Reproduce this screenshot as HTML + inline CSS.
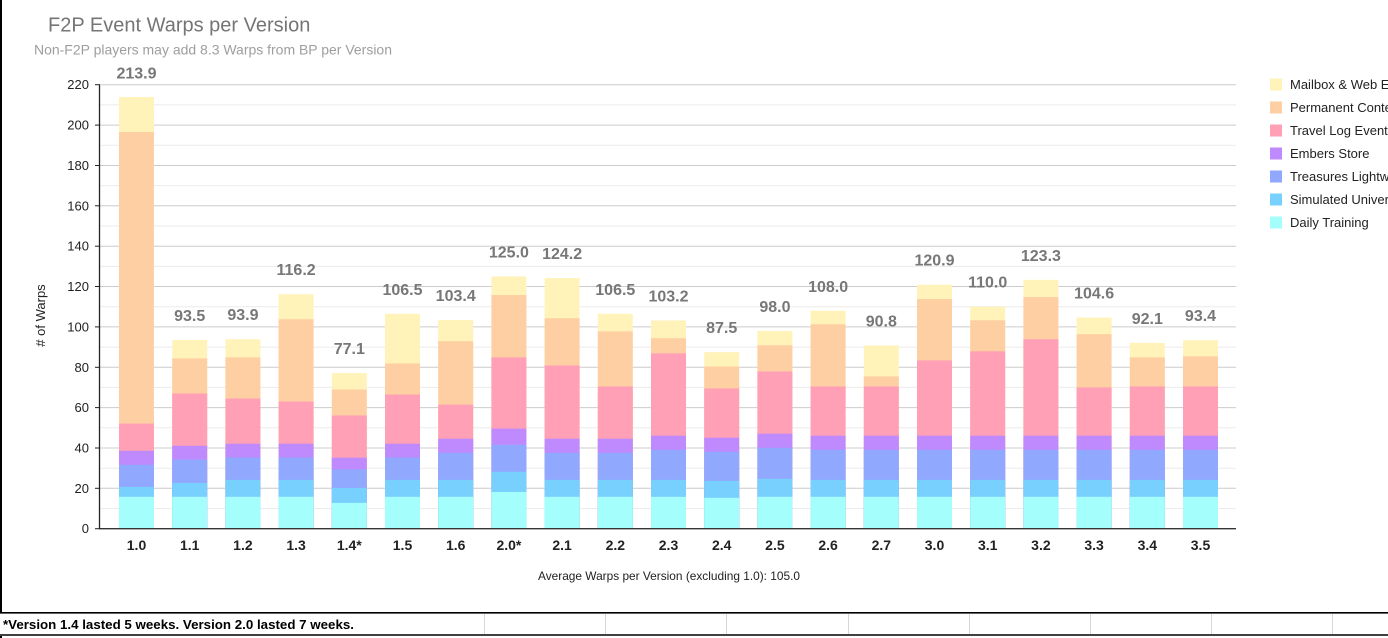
<!DOCTYPE html>
<html>
<head>
<meta charset="utf-8">
<style>
html,body{margin:0;padding:0;background:#fff;}
body{width:1388px;height:638px;overflow:hidden;}
svg{display:block;}
text{font-family:"Liberation Sans",Arial,sans-serif;}
</style>
</head>
<body>
<svg width="1388" height="638" viewBox="0 0 1388 638" xmlns="http://www.w3.org/2000/svg">
<rect x="0" y="0" width="1388" height="638" fill="#fff"/>

<!-- title -->
<text x="48" y="31.7" font-size="20" fill="#757575">F2P Event Warps per Version</text>
<text x="34" y="54.3" font-size="14" fill="#9e9e9e" textLength="358" lengthAdjust="spacingAndGlyphs">Non-F2P players may add 8.3 Warps from BP per Version</text>

<!-- gridlines minor -->
<g stroke="#ebebeb" stroke-width="1">
<line x1="100" x2="1236" y1="508.5" y2="508.5"/>
<line x1="100" x2="1236" y1="468.2" y2="468.2"/>
<line x1="100" x2="1236" y1="427.8" y2="427.8"/>
<line x1="100" x2="1236" y1="387.4" y2="387.4"/>
<line x1="100" x2="1236" y1="347.1" y2="347.1"/>
<line x1="100" x2="1236" y1="306.7" y2="306.7"/>
<line x1="100" x2="1236" y1="266.4" y2="266.4"/>
<line x1="100" x2="1236" y1="226.0" y2="226.0"/>
<line x1="100" x2="1236" y1="185.6" y2="185.6"/>
<line x1="100" x2="1236" y1="145.3" y2="145.3"/>
<line x1="100" x2="1236" y1="104.9" y2="104.9"/>
</g>
<!-- gridlines major -->
<g stroke="#cccccc" stroke-width="1">
<line x1="100" x2="1236" y1="488.3" y2="488.3"/>
<line x1="100" x2="1236" y1="448.0" y2="448.0"/>
<line x1="100" x2="1236" y1="407.6" y2="407.6"/>
<line x1="100" x2="1236" y1="367.3" y2="367.3"/>
<line x1="100" x2="1236" y1="326.9" y2="326.9"/>
<line x1="100" x2="1236" y1="286.5" y2="286.5"/>
<line x1="100" x2="1236" y1="246.2" y2="246.2"/>
<line x1="100" x2="1236" y1="205.8" y2="205.8"/>
<line x1="100" x2="1236" y1="165.5" y2="165.5"/>
<line x1="100" x2="1236" y1="125.1" y2="125.1"/>
<line x1="100" x2="1236" y1="84.7" y2="84.7"/>
</g>

<!-- bars -->
<g id="bars">
<g transform="translate(119,528.7) scale(1,-2.018)"><rect width="35" height="213.9" fill="#fff3b9"/><rect width="35" height="196.6" fill="#ffcfa4"/><rect width="35" height="52.1" fill="#ffa0b6"/><rect width="35" height="38.6" fill="#c08aff"/><rect width="35" height="31.7" fill="#91a8ff"/><rect width="35" height="20.7" fill="#78d0ff"/><rect width="35" height="15.8" fill="#a4fffc"/></g>
<g transform="translate(172.2,528.7) scale(1,-2.018)"><rect width="35" height="93.5" fill="#fff3b9"/><rect width="35" height="84.4" fill="#ffcfa4"/><rect width="35" height="67.0" fill="#ffa0b6"/><rect width="35" height="41.1" fill="#c08aff"/><rect width="35" height="34.3" fill="#91a8ff"/><rect width="35" height="22.7" fill="#78d0ff"/><rect width="35" height="15.8" fill="#a4fffc"/></g>
<g transform="translate(225.4,528.7) scale(1,-2.018)"><rect width="35" height="93.9" fill="#fff3b9"/><rect width="35" height="84.9" fill="#ffcfa4"/><rect width="35" height="64.5" fill="#ffa0b6"/><rect width="35" height="42.1" fill="#c08aff"/><rect width="35" height="35.3" fill="#91a8ff"/><rect width="35" height="24.2" fill="#78d0ff"/><rect width="35" height="15.8" fill="#a4fffc"/></g>
<g transform="translate(278.6,528.7) scale(1,-2.018)"><rect width="35" height="116.2" fill="#fff3b9"/><rect width="35" height="103.8" fill="#ffcfa4"/><rect width="35" height="63.0" fill="#ffa0b6"/><rect width="35" height="42.1" fill="#c08aff"/><rect width="35" height="35.3" fill="#91a8ff"/><rect width="35" height="24.2" fill="#78d0ff"/><rect width="35" height="15.8" fill="#a4fffc"/></g>
<g transform="translate(331.8,528.7) scale(1,-2.018)"><rect width="35" height="77.1" fill="#fff3b9"/><rect width="35" height="69.0" fill="#ffcfa4"/><rect width="35" height="56.1" fill="#ffa0b6"/><rect width="35" height="35.2" fill="#c08aff"/><rect width="35" height="29.4" fill="#91a8ff"/><rect width="35" height="20.2" fill="#78d0ff"/><rect width="35" height="12.8" fill="#a4fffc"/></g>
<g transform="translate(385,528.7) scale(1,-2.018)"><rect width="35" height="106.5" fill="#fff3b9"/><rect width="35" height="81.9" fill="#ffcfa4"/><rect width="35" height="66.5" fill="#ffa0b6"/><rect width="35" height="42.1" fill="#c08aff"/><rect width="35" height="35.3" fill="#91a8ff"/><rect width="35" height="24.2" fill="#78d0ff"/><rect width="35" height="15.8" fill="#a4fffc"/></g>
<g transform="translate(438.2,528.7) scale(1,-2.018)"><rect width="35" height="103.4" fill="#fff3b9"/><rect width="35" height="92.9" fill="#ffcfa4"/><rect width="35" height="61.5" fill="#ffa0b6"/><rect width="35" height="44.6" fill="#c08aff"/><rect width="35" height="37.6" fill="#91a8ff"/><rect width="35" height="24.2" fill="#78d0ff"/><rect width="35" height="15.8" fill="#a4fffc"/></g>
<g transform="translate(491.4,528.7) scale(1,-2.018)"><rect width="35" height="125.0" fill="#fff3b9"/><rect width="35" height="115.8" fill="#ffcfa4"/><rect width="35" height="84.9" fill="#ffa0b6"/><rect width="35" height="49.6" fill="#c08aff"/><rect width="35" height="41.6" fill="#91a8ff"/><rect width="35" height="28.2" fill="#78d0ff"/><rect width="35" height="18.2" fill="#a4fffc"/></g>
<g transform="translate(544.6,528.7) scale(1,-2.018)"><rect width="35" height="124.2" fill="#fff3b9"/><rect width="35" height="104.3" fill="#ffcfa4"/><rect width="35" height="80.9" fill="#ffa0b6"/><rect width="35" height="44.6" fill="#c08aff"/><rect width="35" height="37.6" fill="#91a8ff"/><rect width="35" height="24.2" fill="#78d0ff"/><rect width="35" height="15.8" fill="#a4fffc"/></g>
<g transform="translate(597.8,528.7) scale(1,-2.018)"><rect width="35" height="106.5" fill="#fff3b9"/><rect width="35" height="97.8" fill="#ffcfa4"/><rect width="35" height="70.5" fill="#ffa0b6"/><rect width="35" height="44.6" fill="#c08aff"/><rect width="35" height="37.6" fill="#91a8ff"/><rect width="35" height="24.2" fill="#78d0ff"/><rect width="35" height="15.8" fill="#a4fffc"/></g>
<g transform="translate(651,528.7) scale(1,-2.018)"><rect width="35" height="103.2" fill="#fff3b9"/><rect width="35" height="94.4" fill="#ffcfa4"/><rect width="35" height="86.9" fill="#ffa0b6"/><rect width="35" height="46.1" fill="#c08aff"/><rect width="35" height="39.1" fill="#91a8ff"/><rect width="35" height="24.2" fill="#78d0ff"/><rect width="35" height="15.8" fill="#a4fffc"/></g>
<g transform="translate(704.2,528.7) scale(1,-2.018)"><rect width="35" height="87.5" fill="#fff3b9"/><rect width="35" height="80.4" fill="#ffcfa4"/><rect width="35" height="69.5" fill="#ffa0b6"/><rect width="35" height="45.1" fill="#c08aff"/><rect width="35" height="38.1" fill="#91a8ff"/><rect width="35" height="23.7" fill="#78d0ff"/><rect width="35" height="15.3" fill="#a4fffc"/></g>
<g transform="translate(757.4,528.7) scale(1,-2.018)"><rect width="35" height="98.0" fill="#fff3b9"/><rect width="35" height="90.9" fill="#ffcfa4"/><rect width="35" height="77.9" fill="#ffa0b6"/><rect width="35" height="47.1" fill="#c08aff"/><rect width="35" height="40.1" fill="#91a8ff"/><rect width="35" height="24.7" fill="#78d0ff"/><rect width="35" height="15.8" fill="#a4fffc"/></g>
<g transform="translate(810.6,528.7) scale(1,-2.018)"><rect width="35" height="108.0" fill="#fff3b9"/><rect width="35" height="101.3" fill="#ffcfa4"/><rect width="35" height="70.5" fill="#ffa0b6"/><rect width="35" height="46.1" fill="#c08aff"/><rect width="35" height="39.1" fill="#91a8ff"/><rect width="35" height="24.2" fill="#78d0ff"/><rect width="35" height="15.8" fill="#a4fffc"/></g>
<g transform="translate(863.8,528.7) scale(1,-2.018)"><rect width="35" height="90.8" fill="#fff3b9"/><rect width="35" height="75.5" fill="#ffcfa4"/><rect width="35" height="70.5" fill="#ffa0b6"/><rect width="35" height="46.1" fill="#c08aff"/><rect width="35" height="39.1" fill="#91a8ff"/><rect width="35" height="24.2" fill="#78d0ff"/><rect width="35" height="15.8" fill="#a4fffc"/></g>
<g transform="translate(917,528.7) scale(1,-2.018)"><rect width="35" height="120.9" fill="#fff3b9"/><rect width="35" height="113.8" fill="#ffcfa4"/><rect width="35" height="83.4" fill="#ffa0b6"/><rect width="35" height="46.1" fill="#c08aff"/><rect width="35" height="39.1" fill="#91a8ff"/><rect width="35" height="24.2" fill="#78d0ff"/><rect width="35" height="15.8" fill="#a4fffc"/></g>
<g transform="translate(970.2,528.7) scale(1,-2.018)"><rect width="35" height="110.0" fill="#fff3b9"/><rect width="35" height="103.3" fill="#ffcfa4"/><rect width="35" height="87.9" fill="#ffa0b6"/><rect width="35" height="46.1" fill="#c08aff"/><rect width="35" height="39.1" fill="#91a8ff"/><rect width="35" height="24.2" fill="#78d0ff"/><rect width="35" height="15.8" fill="#a4fffc"/></g>
<g transform="translate(1023.4,528.7) scale(1,-2.018)"><rect width="35" height="123.3" fill="#fff3b9"/><rect width="35" height="114.8" fill="#ffcfa4"/><rect width="35" height="93.9" fill="#ffa0b6"/><rect width="35" height="46.1" fill="#c08aff"/><rect width="35" height="39.1" fill="#91a8ff"/><rect width="35" height="24.2" fill="#78d0ff"/><rect width="35" height="15.8" fill="#a4fffc"/></g>
<g transform="translate(1076.6,528.7) scale(1,-2.018)"><rect width="35" height="104.6" fill="#fff3b9"/><rect width="35" height="96.4" fill="#ffcfa4"/><rect width="35" height="70.0" fill="#ffa0b6"/><rect width="35" height="46.1" fill="#c08aff"/><rect width="35" height="39.1" fill="#91a8ff"/><rect width="35" height="24.2" fill="#78d0ff"/><rect width="35" height="15.8" fill="#a4fffc"/></g>
<g transform="translate(1129.8,528.7) scale(1,-2.018)"><rect width="35" height="92.1" fill="#fff3b9"/><rect width="35" height="84.9" fill="#ffcfa4"/><rect width="35" height="70.5" fill="#ffa0b6"/><rect width="35" height="46.1" fill="#c08aff"/><rect width="35" height="39.1" fill="#91a8ff"/><rect width="35" height="24.2" fill="#78d0ff"/><rect width="35" height="15.8" fill="#a4fffc"/></g>
<g transform="translate(1183,528.7) scale(1,-2.018)"><rect width="35" height="93.4" fill="#fff3b9"/><rect width="35" height="85.4" fill="#ffcfa4"/><rect width="35" height="70.5" fill="#ffa0b6"/><rect width="35" height="46.1" fill="#c08aff"/><rect width="35" height="39.1" fill="#91a8ff"/><rect width="35" height="24.2" fill="#78d0ff"/><rect width="35" height="15.8" fill="#a4fffc"/></g>
</g>

<!-- total labels -->
<g font-size="16" font-weight="bold" fill="#777777" text-anchor="middle">
<text x="136.5" y="78.5">213.9</text>
<text x="189.7" y="321">93.5</text>
<text x="242.9" y="320.2">93.9</text>
<text x="296.1" y="275.2">116.2</text>
<text x="349.3" y="354.1">77.1</text>
<text x="402.5" y="294.8">106.5</text>
<text x="455.7" y="301">103.4</text>
<text x="508.9" y="257.5">125.0</text>
<text x="562.1" y="259.1">124.2</text>
<text x="615.3" y="294.8">106.5</text>
<text x="668.5" y="301.4">103.2</text>
<text x="721.7" y="333.1">87.5</text>
<text x="774.9" y="311.9">98.0</text>
<text x="828.1" y="291.8">108.0</text>
<text x="881.3" y="326.5">90.8</text>
<text x="934.5" y="265.7">120.9</text>
<text x="987.7" y="287.7">110.0</text>
<text x="1040.9" y="260.9">123.3</text>
<text x="1094.1" y="298.6">104.6</text>
<text x="1147.3" y="323.8">92.1</text>
<text x="1200.5" y="321.2">93.4</text>
</g>

<!-- axes -->
<line x1="99.5" x2="99.5" y1="84.7" y2="529.2" stroke="#222" stroke-width="1.3"/>
<line x1="99" x2="1236" y1="528.7" y2="528.7" stroke="#333" stroke-width="1.3"/>
<g stroke="#222" stroke-width="1">
<line x1="95" x2="100" y1="528.7" y2="528.7"/>
<line x1="95" x2="100" y1="488.3" y2="488.3"/>
<line x1="95" x2="100" y1="448.0" y2="448.0"/>
<line x1="95" x2="100" y1="407.6" y2="407.6"/>
<line x1="95" x2="100" y1="367.3" y2="367.3"/>
<line x1="95" x2="100" y1="326.9" y2="326.9"/>
<line x1="95" x2="100" y1="286.5" y2="286.5"/>
<line x1="95" x2="100" y1="246.2" y2="246.2"/>
<line x1="95" x2="100" y1="205.8" y2="205.8"/>
<line x1="95" x2="100" y1="165.5" y2="165.5"/>
<line x1="95" x2="100" y1="125.1" y2="125.1"/>
<line x1="95" x2="100" y1="84.7" y2="84.7"/>
</g>

<!-- y labels -->
<g font-size="13" fill="#222" text-anchor="end">
<text x="89" y="533.2">0</text>
<text x="89" y="492.8">20</text>
<text x="89" y="452.5">40</text>
<text x="89" y="412.1">60</text>
<text x="89" y="371.8">80</text>
<text x="89" y="331.4">100</text>
<text x="89" y="291">120</text>
<text x="89" y="250.7">140</text>
<text x="89" y="210.3">160</text>
<text x="89" y="170">180</text>
<text x="89" y="129.6">200</text>
<text x="89" y="89.2">220</text>
</g>
<text transform="translate(45,315.5) rotate(-90)" font-size="13" fill="#222" text-anchor="middle"># of Warps</text>

<!-- x labels -->
<g font-size="14" font-weight="bold" fill="#222" text-anchor="middle">
<text x="136.5" y="550">1.0</text>
<text x="189.7" y="550">1.1</text>
<text x="242.9" y="550">1.2</text>
<text x="296.1" y="550">1.3</text>
<text x="349.3" y="550">1.4*</text>
<text x="402.5" y="550">1.5</text>
<text x="455.7" y="550">1.6</text>
<text x="508.9" y="550">2.0*</text>
<text x="562.1" y="550">2.1</text>
<text x="615.3" y="550">2.2</text>
<text x="668.5" y="550">2.3</text>
<text x="721.7" y="550">2.4</text>
<text x="774.9" y="550">2.5</text>
<text x="828.1" y="550">2.6</text>
<text x="881.3" y="550">2.7</text>
<text x="934.5" y="550">3.0</text>
<text x="987.7" y="550">3.1</text>
<text x="1040.9" y="550">3.2</text>
<text x="1094.1" y="550">3.3</text>
<text x="1147.3" y="550">3.4</text>
<text x="1200.5" y="550">3.5</text>
</g>
<text x="669" y="580" font-size="12" fill="#222" text-anchor="middle" textLength="262" lengthAdjust="spacingAndGlyphs">Average Warps per Version (excluding 1.0): 105.0</text>

<!-- legend -->
<g>
<rect x="1270" y="78.5" width="12" height="12" fill="#fff3b9"/>
<rect x="1270" y="101.5" width="12" height="12" fill="#ffcfa4"/>
<rect x="1270" y="124.5" width="12" height="12" fill="#ffa0b6"/>
<rect x="1270" y="147.5" width="12" height="12" fill="#c08aff"/>
<rect x="1270" y="170.5" width="12" height="12" fill="#91a8ff"/>
<rect x="1270" y="193.5" width="12" height="12" fill="#78d0ff"/>
<rect x="1270" y="216.5" width="12" height="12" fill="#a4fffc"/>
</g>
<g font-size="13" fill="#222">
<text x="1290" y="89">Mailbox &amp; Web Events</text>
<text x="1290" y="112">Permanent Content</text>
<text x="1290" y="135">Travel Log Events</text>
<text x="1290" y="158">Embers Store</text>
<text x="1290" y="181">Treasures Lightward</text>
<text x="1290" y="204">Simulated Universe</text>
<text x="1290" y="227">Daily Training</text>
</g>

<!-- frame / spreadsheet row -->
<line x1="1" x2="1" y1="0" y2="613" stroke="#000" stroke-width="2"/>
<line x1="0" x2="1388" y1="612.8" y2="612.8" stroke="#000" stroke-width="1.6"/>
<g stroke="#d6d6d6" stroke-width="1">
<line x1="484.5" x2="484.5" y1="614" y2="634"/>
<line x1="605.5" x2="605.5" y1="614" y2="634"/>
<line x1="726.5" x2="726.5" y1="614" y2="634"/>
<line x1="848.5" x2="848.5" y1="614" y2="634"/>
<line x1="969.5" x2="969.5" y1="614" y2="634"/>
<line x1="1090.5" x2="1090.5" y1="614" y2="634"/>
<line x1="1211.5" x2="1211.5" y1="614" y2="634"/>
<line x1="1332.5" x2="1332.5" y1="614" y2="634"/>
</g>
<text x="3" y="629" font-size="13" font-weight="bold" fill="#000" textLength="351" lengthAdjust="spacingAndGlyphs">*Version 1.4 lasted 5 weeks. Version 2.0 lasted 7 weeks.</text>
<line x1="0" x2="1388" y1="635" y2="635" stroke="#000" stroke-width="1.6"/>
<line x1="1" x2="1" y1="636" y2="638" stroke="#000" stroke-width="2"/>
</svg>
</body>
</html>
